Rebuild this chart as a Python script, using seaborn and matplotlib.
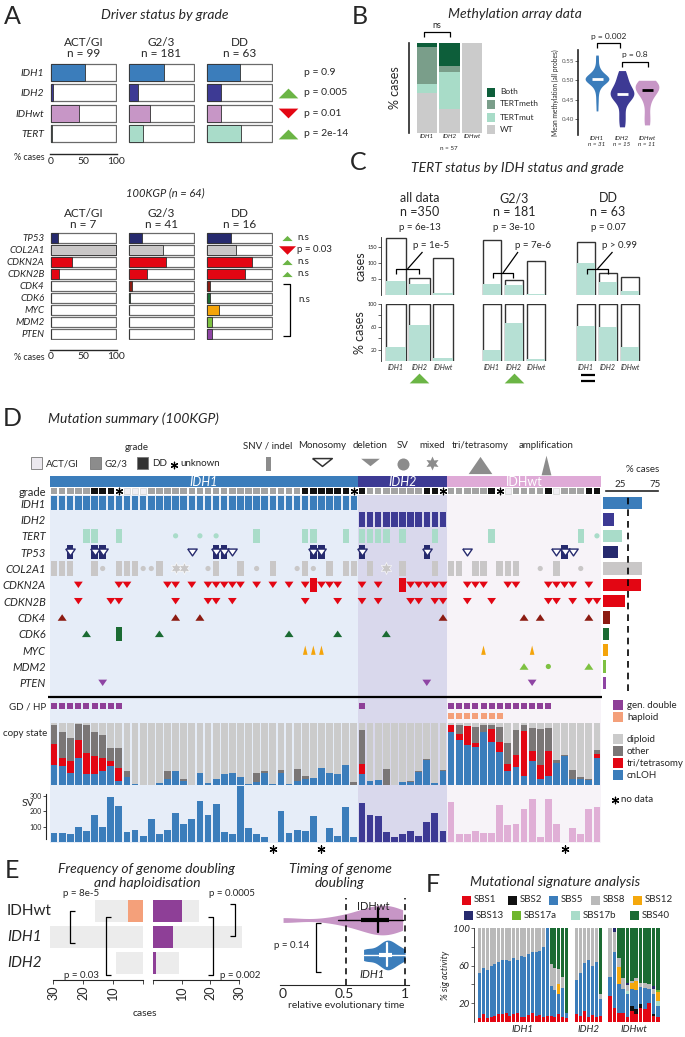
import numpy as np
import pandas as pd
import matplotlib
matplotlib.use('Agg')
import matplotlib.pyplot as plt
import seaborn as sns
from matplotlib.patches import Rectangle

sns.set_theme(style='white')
plt.rcParams['font.family'] = ['Lato', 'DejaVu Sans']
plt.rcParams['axes.linewidth'] = 0.8

## ---------------- data ----------------
# A: driver status by grade
grade_names = ['ACT/GI', 'G2/3', 'DD']
grade_n = [99, 181, 63]
drivers = ['IDH1', 'IDH2', 'IDHwt', 'TERT']
drv_act = [53, 4, 43, 2]
drv_g23 = [54, 15, 33, 22]
drv_dd = [50, 22, 22, 52]
drv_p = ['p = 0.9', 'p = 0.005', 'p = 0.01', 'p = 2e-14']
drv_dir = ['', 'up', 'down', 'up']

kgp_n = [7, 41, 16]
kgp_genes = ['TP53', 'COL2A1', 'CDKN2A', 'CDKN2B', 'CDK4', 'CDK6', 'MYC', 'MDM2', 'PTEN']
kgp_act = [12, 100, 33, 13, 0, 0, 0, 0, 0]
kgp_g23 = [20, 52, 57, 28, 5, 2, 0, 1, 1]
kgp_dd = [37, 44, 69, 58, 5, 6, 19, 9, 9]
kgp_p = ['n.s', 'p = 0.03', 'n.s', 'n.s']
kgp_dir = ['up', 'down', 'up', 'up']

# B: methylation array
idh_groups = ['IDH1', 'IDH2', 'IDHwt']
meth_wt = [45, 27, 100]
meth_mut = [10, 41, 0]
meth_meth = [41, 7, 0]
meth_both = [4, 25, 0]
meth_idh1 = [0.421, 0.44, 0.455, 0.47, 0.478, 0.485, 0.49, 0.492, 0.495, 0.497, 0.498,
             0.5, 0.501, 0.502, 0.503, 0.503, 0.504, 0.505, 0.506, 0.507, 0.508, 0.51,
             0.512, 0.514, 0.516, 0.52, 0.525, 0.53, 0.54, 0.555, 0.565]
meth_idh2 = [0.38, 0.40, 0.42, 0.445, 0.455, 0.46, 0.463, 0.465, 0.468, 0.472, 0.48,
             0.49, 0.50, 0.51, 0.525]
meth_idhwt = [0.385, 0.41, 0.44, 0.46, 0.47, 0.475, 0.48, 0.485, 0.49, 0.495, 0.50]

# C: TERT by IDH status and grade
tert_heads = ['all data\nn =350', 'G2/3\nn = 181', 'DD\nn = 63']
tert_pall = ['p = 6e-13', 'p = 3e-10', 'p = 0.07']
tert_ppair = ['p = 1e-5', 'p = 7e-6', 'p > 0.99']
tert_all_tot = [178, 52, 115]
tert_all_pos = [45, 33, 6]
tert_g23_tot = [98, 27, 60]
tert_g23_pos = [19, 18, 2]
tert_dd_tot = [36, 15, 12]
tert_dd_pos = [22, 9, 3]

# D: mutation summary, 68 samples
group_sizes = [38, 11, 19]
grade_row = list('GGGGGDDDUAAAGGGGGGGGGGGGGGGGGGGDDDDDDU'
                 'DGGGGGGGDDU'
                 'GGGGGDUAGGGGDAGGGDD')
genes12 = ['IDH1', 'IDH2', 'TERT', 'TP53', 'COL2A1', 'CDKN2A', 'CDKN2B',
           'CDK4', 'CDK6', 'MYC', 'MDM2', 'PTEN']
tert_snv = [4, 5, 8, 25, 31, 32, 36, 38, 39, 40, 41, 43, 47, 54, 65]
tert_sv = [15, 18, 20, 67]
tp53_snv = [2, 5, 6, 20, 21, 32, 33, 38, 46, 63]
tp53_mono = [2, 5, 6, 17, 20, 21, 22, 32, 33, 38, 46, 51, 62, 63, 64]
col2a1_snv = [0, 1, 2, 5, 8, 9, 10, 13, 20, 23, 27, 31, 34, 36, 37, 39, 43, 47, 49, 50,
              52, 53, 55, 56, 57, 62]
col2a1_sv = [6, 11, 12, 19, 25, 30, 32, 60, 65]
col2a1_mix = [15, 16, 41]
cdkn2a_del = [3, 8, 9, 14, 15, 17, 19, 20, 21, 22, 23, 25, 27, 29, 31, 33, 34, 35, 38, 40,
              44, 45, 46, 47, 48, 51, 52, 53, 56, 57, 61, 62, 63, 64, 66]
cdkn2a_snv = [32, 43]
cdkn2b_del = [3, 7, 8, 15, 19, 20, 22, 31, 35, 38, 40, 44, 45, 47, 48, 51, 54, 61, 62, 64, 66, 67]
cdk4_tri = [1, 15, 18, 48, 58, 60, 66]
cdk6_tri = [4, 13, 29, 35, 41]
cdk6_snv = [8]
myc_amp = [31, 32, 33, 53, 59]
mdm2_tri = [58, 66]
mdm2_sv = [61]
pten_del = [6, 46, 59]
gd_samples = [0, 1, 2, 3, 4, 5, 6, 7, 8, 38, 49, 50, 51, 52, 53, 54, 55, 56, 57, 58, 59, 60, 61]
hp_samples = [49, 50, 51, 52, 53, 54, 55]

cs_cnloh = [.32, .31, .19, .43, .17, .17, .23, .31, .06, .13, .01, 0, 0, .03, .10, .23, .06, 0, .20, .03,
            .10, .17, .20, .13, .02, .05, .20, .01, .20, .02, .06, .10, .12, .27, .20, .17, .32, 0,
            .17, .06, .08, 0, 0, .05, .05, .21, .40, .03, .23,
            .86, .72, .64, .62, .85, .70, .53, .23, .29, .14, .38, .10, .15, .36, .47, .10, .10, .08, .44]
cs_tri = [.34, .13, .19, .29, .35, .29, .20, .07, .21, 0, 0, 0, 0, 0, 0, 0, 0, 0, 0, 0,
          0, 0, 0, 0, 0, 0, 0, 0, 0, 0, 0, 0, 0, 0, 0, 0, 0, 0,
          .17, 0, 0, 0, 0, 0, 0, 0, 0, 0, 0,
          .11, .11, .31, .06, 0, .20, .17, .11, .19, .73, .17, .22, .40, 0, 0, 0, 0, 0, .06]
cs_other = [.31, .41, .38, .26, .44, .40, .38, .22, .33, .10, 0, 0, 0, 0, .13, 0, .04, 0, 0, 0,
            0, 0, 0, 0, 0, .15, .03, 0, .05, 0, .20, .05, 0, 0, 0, 0, 0, .05,
            .54, 0, 0, .26, 0, 0, .02, .02, .02, 0, .02,
            0, .14, 0, .26, .12, .06, .23, .34, .40, .10, .37, .58, .37, .04, .02, .15, .03, .02, .06]
nan = np.nan
sv_counts = [60, 60, 50, 100, 70, 175, 95, 295, 235, 65, 75, 40, 150, 50, 80, 190, 120, 150, 265, 175,
             250, 65, 50, 390, 90, 55, 35, nan, 205, 60, 80, 70, 170, nan, 90, 40, 225, 35,
             255, 175, 170, 65, 30, 50, 70, 40, 130, 190, 70,
             260, 55, 55, 70, 60, 60, 240, 110, 120, 215, 280, 35, 280, 120, nan, 90, 50, 215, 225]

# E: genome doubling / haploidisation
gd_groups = ['IDHwt', 'IDH1', 'IDH2']
gd_total = [16, 31, 9]
hp_cases = [5, 0, 0]
gd_cases = [10, 7, 1]
gdt_idhwt = [0.0, 0.45, 0.62, 0.70, 0.76, 0.80, 0.83, 0.88, 0.93, 0.98]
gdt_idh1 = [0.66, 0.70, 0.78, 0.82, 0.84, 0.86, 0.88, 0.90, 0.95, 1.0]

# F: mutational signatures (% activity per tumour)
sig_order = ['SBS1', 'SBS2', 'SBS5', 'SBS17b', 'SBS12', 'SBS17a', 'SBS8', 'SBS13', 'SBS40']
f_idh1 = {
    'SBS1': [4, 8, 4, 5, 6, 8, 9, 10, 6, 8, 10, 5, 5, 7, 10, 6, 7, 5, 6, 6, 5, 8, 5, 4],
    'SBS5': [48, 49, 51, 55, 56, 56, 57, 56, 59, 60, 56, 65, 64, 65, 64, 69, 69, 75, 94, 32, 29, 22, 31, 6],
    'SBS12': [0, 0, 0, 0, 0, 0, 0, 0, 0, 0, 0, 0, 0, 0, 0, 0, 0, 0, 0, 0, 0, 10, 0, 0],
    'SBS8': [48, 43, 45, 40, 38, 36, 34, 34, 35, 32, 34, 30, 31, 28, 26, 25, 24, 20, 0, 24, 23, 16, 12, 0],
    'SBS40': [0, 0, 0, 0, 0, 0, 0, 0, 0, 0, 0, 0, 0, 0, 0, 0, 0, 0, 0, 38, 43, 44, 52, 90],
}
f_idh2 = {
    'SBS1': [8, 6, 12, 5, 7, 5, 6],
    'SBS5': [37, 46, 51, 61, 53, 59, 19],
    'SBS8': [55, 48, 37, 34, 40, 36, 5],
    'SBS40': [0, 0, 0, 0, 0, 0, 70],
}
f_idhwt = {
    'SBS1': [28, 15, 10, 10, 5, 12, 8, 15, 14, 20, 6, 5],
    'SBS2': [0, 0, 0, 0, 0, 5, 6, 4, 0, 0, 2, 0],
    'SBS5': [20, 60, 30, 25, 25, 18, 20, 18, 22, 15, 22, 12],
    'SBS17b': [0, 0, 0, 0, 3, 0, 0, 0, 0, 0, 0, 5],
    'SBS12': [0, 0, 18, 0, 0, 7, 10, 0, 0, 0, 0, 10],
    'SBS17a': [0, 0, 0, 0, 0, 0, 0, 0, 0, 0, 0, 2],
    'SBS8': [52, 21, 10, 12, 6, 2, 3, 5, 6, 5, 5, 0],
    'SBS13': [0, 4, 0, 0, 3, 0, 0, 0, 0, 0, 3, 0],
    'SBS40': [0, 0, 32, 53, 58, 56, 53, 58, 58, 60, 62, 66],
}

## ---------------- colours ----------------
c_idh1 = '#3b7dbb'
c_idh2 = '#3d3a94'
c_idhwt = '#c796c6'
c_tert = '#a9dcc9'
green = '#6bb545'
red = '#e30613'
gene_col = {'IDH1': c_idh1, 'IDH2': c_idh2, 'IDHwt': c_idhwt, 'TERT': c_tert,
            'TP53': '#262a6e', 'COL2A1': '#c9c7c7', 'CDKN2A': red, 'CDKN2B': red,
            'CDK4': '#8c1b12', 'CDK6': '#1b6b33', 'MYC': '#f4a40b', 'MDM2': '#7ec142',
            'PTEN': '#8f45a4'}
sig_col = {'SBS1': red, 'SBS2': '#111111', 'SBS5': c_idh1, 'SBS8': '#b9b9b9',
           'SBS12': '#f5a80d', 'SBS13': '#262a6e', 'SBS17a': '#6fb62d',
           'SBS17b': '#a9dcc9', 'SBS40': '#1b6b33'}
cs_col = {'diploid': '#cbcbcb', 'other': '#7a7676', 'tri': red, 'cnloh': c_idh1}

## ---------------- figure helpers ----------------
W, H = 685, 1037
fig = plt.figure(figsize=(W / 100, H / 100), dpi=100)

ov = fig.add_axes([0, 0, 1, 1], zorder=20)
ov.set_xlim(0, W)
ov.set_ylim(H, 0)
ov.axis('off')
ov.patch.set_alpha(0)


def px_ax(x, y, w, h):
    ax = fig.add_axes([x / W, 1 - (y + h) / H, w / W, h / H])
    ax.set_facecolor('none')
    return ax


def txt(x, y, s, size=7, ha='center', va='center', **kw):
    ov.text(x, y, s, fontsize=size, ha=ha, va=va, **kw)


def line(xs, ys, lw=0.9, color='black', **kw):
    ov.plot(xs, ys, color=color, lw=lw, solid_capstyle='butt', **kw)


# closed triangle marker shapes
m_up_wide = [(-1, -0.5), (1, -0.5), (0, 0.5), (-1, -0.5)]
m_dn_wide = [(-1, 0.5), (1, 0.5), (0, -0.5), (-1, 0.5)]
m_del = [(-0.55, 0.4), (0.55, 0.4), (0, -0.4), (-0.55, 0.4)]
m_tri = [(-0.55, -0.4), (0.55, -0.4), (0, 0.4), (-0.55, -0.4)]
m_amp = [(-0.25, -0.5), (0.25, -0.5), (0, 0.5), (-0.25, -0.5)]
m_mono = [(-1, 0.4), (1, 0.4), (0, -0.4), (-1, 0.4)]
m_star = (6, 1, 0)


def tri(x, y, up, s):
    ov.scatter([x], [y], marker=m_up_wide if up else m_dn_wide, s=s,
               color=green if up else red, lw=0)


def box_panel(ax, genes, vals, labels, first, fs):
    df = pd.DataFrame({'gene': genes, 'pct': vals})
    df['full'] = 100
    sns.barplot(data=df, x='full', y='gene', orient='h', color='white', edgecolor='#6a6a6a',
                linewidth=0.9, width=0.82, saturation=1, errorbar=None, ax=ax)
    sns.barplot(data=df, x='pct', y='gene', orient='h', hue='gene',
                palette=[gene_col[g] for g in genes], edgecolor='#303030', linewidth=0.6,
                width=0.82, saturation=1, errorbar=None, legend=False, ax=ax)
    ax.set_xlim(-0.8, 100.8)
    ax.set_xlabel('')
    ax.set_ylabel('')
    for s in ax.spines.values():
        s.set_visible(False)
    ax.tick_params(axis='y', length=0, pad=4)
    if labels:
        for lab in ax.get_yticklabels():
            lab.set_fontstyle('italic')
            lab.set_fontsize(fs)
    else:
        ax.set_yticklabels([])
    if first:
        ax.spines['bottom'].set_visible(True)
        ax.spines['bottom'].set_position(('outward', 7))
        ax.spines['bottom'].set_linewidth(1.0)
        ax.set_xticks([0, 50, 100])
        ax.tick_params(axis='x', length=0, labelsize=7.5, pad=2)
    else:
        ax.set_xticks([])


## ---------------- panel A ----------------
txt(12, 16, 'A', 18)
txt(165, 15, 'Driver status by grade', 10, style='italic')
colx = [50, 128, 206]
for j, vals in enumerate([drv_act, drv_g23, drv_dd]):
    ax = px_ax(colx[j], 62, 67, 82)
    box_panel(ax, drivers, vals, j == 0, j == 0, 7.5)
    txt(colx[j] + 33.5, 48, f'{grade_names[j]}\nn = {grade_n[j]}', 8.5, linespacing=1.05)
for i, (p, d) in enumerate(zip(drv_p, drv_dir)):
    yy = 62 + (i + 0.5) * 20.5
    if d:
        tri(288, yy, d == 'up', 200)
    txt(304, yy, p, 7.5, ha='left')
txt(45, 158, '% cases', 6.5, ha='right')

txt(165, 193, '100KGP (n = 64)', 8, style='italic')
for j, vals in enumerate([kgp_act, kgp_g23, kgp_dd]):
    ax = px_ax(colx[j], 232, 67, 108)
    box_panel(ax, kgp_genes, vals, j == 0, j == 0, 7)
    txt(colx[j] + 33.5, 219, f'{grade_names[j]}\nn = {kgp_n[j]}', 8.5, linespacing=1.05)
for i, (p, d) in enumerate(zip(kgp_p, kgp_dir)):
    yy = 232 + (i + 0.5) * 12
    tri(287, yy, d == 'up', 55 if d == 'up' else 150)
    txt(297, yy, p, 7, ha='left')
line([283, 290, 290, 283], [284, 284, 336, 336])
txt(298, 300, 'n.s', 7, ha='left')
txt(45, 357, '% cases', 6.5, ha='right')

## ---------------- panel B ----------------
txt(360, 17, 'B', 18)
txt(515, 14, 'Methylation array data', 10, style='italic')
axb = px_ax(416, 43, 67, 90)
dfm = pd.DataFrame({'grp': idh_groups, 'WT': meth_wt, 'TERTmut': meth_mut,
                    'TERTmeth': meth_meth, 'Both': meth_both})
layers = ['WT', 'TERTmut', 'TERTmeth', 'Both']
meth_col = {'Both': '#0d5e3a', 'TERTmeth': '#7a9e8a', 'TERTmut': '#a8dcc8', 'WT': '#cbcbcb'}
cum = dfm[layers].cumsum(axis=1)
for lay in reversed(layers):
    sns.barplot(x=dfm['grp'], y=cum[lay], color=meth_col[lay], width=0.92, saturation=1,
                errorbar=None, linewidth=0, ax=axb)
axb.set_ylim(0, 100)
axb.set_yticks([])
axb.set_xlabel('')
axb.set_ylabel('% cases', fontsize=9, labelpad=6)
for s in ['top', 'right', 'bottom']:
    axb.spines[s].set_visible(False)
axb.spines['left'].set_position(('outward', 5))
axb.spines['left'].set_linewidth(1.2)
axb.tick_params(axis='x', length=0, pad=1, labelsize=4.5)
for lab in axb.get_xticklabels():
    lab.set_fontstyle('italic')
txt(449, 148, 'n = 57', 4.5)
line([424, 424, 450, 450], [37, 32, 32, 37])
txt(437, 26, 'ns', 6.5)
for lay, yy in zip(['Both', 'TERTmeth', 'TERTmut', 'WT'], [92, 104, 117, 129]):
    ov.add_patch(Rectangle((487, yy - 4.5), 8, 9, color=meth_col[lay], lw=0))
    txt(500, yy, lay, 6, ha='left')

axv = px_ax(578, 50, 85, 85)
dmv = pd.DataFrame({'grp': ['IDH1'] * len(meth_idh1) + ['IDH2'] * len(meth_idh2) + ['IDHwt'] * len(meth_idhwt),
                    'val': meth_idh1 + meth_idh2 + meth_idhwt})
sns.violinplot(data=dmv, x='grp', y='val', hue='grp', palette=[c_idh1, c_idh2, c_idhwt],
               cut=0, inner=None, linewidth=0, width=0.95, bw_adjust=0.7, saturation=1,
               legend=False, ax=axv)
meds = dmv.groupby('grp')['val'].median()
for i, g in enumerate(idh_groups):
    axv.plot([i - 0.22, i + 0.22], [meds[g]] * 2, color='black' if g == 'IDHwt' else 'white',
             lw=2, solid_capstyle='butt')
axv.set_xlim(-0.76, 2.64)
axv.set_ylim(0.359, 0.578)
axv.set_yticks([0.40, 0.45, 0.50, 0.55])
axv.set_yticklabels(['0.40', '0.45', '0.50', '0.55'])
axv.tick_params(axis='y', left=True, length=2, width=0.5, labelsize=4.5, labelcolor='#555555', pad=1)
axv.tick_params(axis='x', length=0, pad=1, labelsize=4.5)
axv.set_xticks([0, 1, 2])
axv.set_xticklabels([f'{g}\nn = {n}' for g, n in zip(idh_groups, [31, 15, 11])], fontstyle='italic')
axv.set_xlabel('')
axv.set_ylabel('Mean methylation (all probes)', fontsize=4.8, labelpad=2)
for s in ['top', 'right', 'bottom']:
    axv.spines[s].set_visible(False)
axv.spines['left'].set_linewidth(1.2)
line([597, 597, 620, 620], [48, 43, 43, 48])
txt(609, 36, 'p = 0.002', 6)
line([622, 622, 648, 648], [67, 62, 62, 67])
txt(635, 55, 'p = 0.8', 6)

## ---------------- panel C ----------------
txt(358, 163, 'C', 18)
txt(517, 168, 'TERT status by IDH status and grade', 10, style='italic')
cgx = [(384, 71), (481, 66), (575, 66)]
ctop = [180, 103, 39.4]
cdata = [(tert_all_tot, tert_all_pos), (tert_g23_tot, tert_g23_pos), (tert_dd_tot, tert_dd_pos)]
for k, ((x0, w), (tot, pos)) in enumerate(zip(cgx, cdata)):
    cx = x0 + w / 2
    txt(cx, 205, tert_heads[k], 9, linespacing=1.1)
    txt(cx, 228, tert_pall[k], 7)
    dfc = pd.DataFrame({'grp': idh_groups, 'tot': tot, 'pos': pos})
    dfc['pct'] = dfc['pos'] / dfc['tot'] * 100
    dfc['full'] = 100
    for j, (ycol, fcol, top) in enumerate([('tot', 'pos', ctop[k]), ('full', 'pct', 100)]):
        ax = px_ax(x0, 237 if j == 0 else 304, w, 58 if j == 0 else 57)
        sns.barplot(data=dfc, x='grp', y=ycol, color='white', edgecolor='#333333', linewidth=1.0,
                    width=0.85, saturation=1, errorbar=None, ax=ax)
        sns.barplot(data=dfc, x='grp', y=fcol, color='#b6e0d4', linewidth=0, width=0.85,
                    saturation=1, errorbar=None, ax=ax)
        ax.set_ylim(0, top)
        ax.set_xlabel('')
        ax.set_ylabel('')
        for s in ['top', 'right', 'bottom', 'left']:
            ax.spines[s].set_visible(False)
        if j == 0:
            ax.set_xticks([])
        else:
            ax.tick_params(axis='x', length=0, pad=2, labelsize=5)
            for lab in ax.get_xticklabels():
                lab.set_fontstyle('italic')
        if k == 0:
            ax.spines['left'].set_visible(True)
            ax.spines['left'].set_position(('outward', 2))
            ax.spines['left'].set_linewidth(0.6)
            if j == 0:
                ax.set_yticks([50, 100, 150])
                ax.set_ylabel('cases', fontsize=9, labelpad=1)
            else:
                ax.set_yticks([20, 40, 60, 80, 100])
                ax.set_yticklabels(['20', '', '60', '', '100'])
                ax.set_ylabel('% cases', fontsize=9, labelpad=1)
            ax.tick_params(axis='y', left=True, length=2, width=0.5, labelsize=4, pad=1)
        else:
            ax.set_yticks([])
# pairwise IDH1 vs IDH2 brackets
for (xa, xb, yb, xt), p in zip([(396, 419, 269, 431), (493, 513, 273, 533), (587, 608, 269, 620)], tert_ppair):
    line([xa, xa, xb, xb], [yb + 5, yb, yb, yb + 5])
    line([(xa + xb) / 2, (xa + xb) / 2 + 15], [yb, 252])
    txt(xt, 245, p, 7)
ov.scatter([419, 514], [378, 378], marker=m_up_wide, s=200, color=green, lw=0)
line([581, 595], [375, 375], lw=1.6)
line([581, 595], [380.5, 380.5], lw=1.6)

## ---------------- panel D ----------------
txt(12, 419, 'D', 18)
txt(48, 419, 'Mutation summary (100KGP)', 10, ha='left', style='italic')

n_samp = sum(group_sizes)
samples = np.arange(n_samp)
group_of = np.repeat(idh_groups, group_sizes)
starts = np.cumsum([0] + group_sizes[:-1])
idh1_snv = [int(i) for i in samples if group_of[i] == 'IDH1']
idh2_snv = [int(i) for i in samples if group_of[i] == 'IDH2']

# legend row
gray = '#8c8c8c'
txt(137, 447, 'grade', 7)
for x0, c, lab in [(31, '#ebe8ee', 'ACT/GI'), (90, gray, 'G2/3'), (137, '#333333', 'DD')]:
    ov.add_patch(Rectangle((x0, 457), 11, 12, facecolor=c, edgecolor='#777777', lw=0.6))
    txt(x0 + 15, 464, lab, 7, ha='left')
ov.scatter([174], [465], marker=(6, 2, 0), s=22, color='black', lw=0.9)
txt(180, 464, 'unknown', 7, ha='left')
type_lab = ['SNV / indel', 'Monosomy', 'deletion', 'SV', 'mixed', 'tri/tetrasomy', 'amplification']
type_x = [268, 322, 370, 403, 432, 480, 546]
for lab, xx in zip(type_lab, type_x):
    txt(xx, 446, lab, 7)
ov.add_patch(Rectangle((266, 457), 5, 14, color=gray, lw=0))
ov.scatter([322], [462], marker=m_mono, s=200, facecolor='white', edgecolor='#333333', lw=1.1)
ov.scatter([370], [462], marker=m_mono, s=180, color=gray, lw=0)
ov.scatter([403], [464], marker='o', s=75, color=gray, lw=0)
ov.scatter([432], [463], marker=m_star, s=100, color=gray, lw=0)
ov.scatter([480], [465], marker=m_tri, s=290, color=gray, lw=0)
ov.scatter([546], [465], marker=m_amp, s=200, color=gray, lw=0)

# group header
ax_h = px_ax(50, 476, 551, 11)
ax_h.barh([0] * 3, group_sizes, left=starts - 0.5, height=1,
          color=[c_idh1, c_idh2, '#dfaad7'], lw=0)
ax_h.set_xlim(-0.5, n_samp - 0.5)
ax_h.set_ylim(-0.5, 0.5)
ax_h.axis('off')
for g, s0, n in zip(idh_groups, starts, group_sizes):
    xc = 50 + (s0 + n / 2) * 551 / n_samp
    txt(xc, 481.5, g, 9, color='white', style='normal' if g == 'IDHwt' else 'italic')

# background shading
ax_bg = px_ax(50, 495, 551, 348)
ax_bg.set_zorder(-1)
for s0, n, c in zip(starts, group_sizes, ['#e6edf8', '#d9d8ec', '#f7f3f8']):
    ax_bg.axvspan(s0 - 0.5, s0 + n - 0.5, color=c, lw=0)
ax_bg.set_xlim(-0.5, n_samp - 0.5)
ax_bg.axis('off')

# grade row
ax_g = px_ax(50, 487, 551, 8)
grade_col = {'A': '#f0eef3', 'G': '#a3a3a3', 'D': '#111111'}
for code in ['A', 'G', 'D']:
    xs = [i for i, gr in enumerate(grade_row) if gr == code]
    sns.scatterplot(x=xs, y=[0] * len(xs), marker='s', s=22, color=grade_col[code],
                    edgecolor='#c8c8c8' if code == 'A' else 'none', linewidth=0.4,
                    legend=False, ax=ax_g)
xs = [i for i, gr in enumerate(grade_row) if gr == 'U']
sns.scatterplot(x=xs, y=[0] * len(xs), marker=(6, 2, 0), s=22, color='black', linewidth=0.9,
                legend=False, ax=ax_g)
ax_g.set_xlim(-0.5, n_samp - 0.5)
ax_g.set_ylim(-0.5, 0.5)
ax_g.set_yticks([0])
ax_g.set_yticklabels(['grade'], fontsize=8)
ax_g.set_xticks([])
ax_g.tick_params(axis='y', length=0, pad=3)
for s in ax_g.spines.values():
    s.set_visible(False)

# gene rows
events = [
    ('IDH1', 'snv', idh1_snv), ('IDH2', 'snv', idh2_snv),
    ('TERT', 'snv', tert_snv), ('TERT', 'sv', tert_sv),
    ('TP53', 'snv', tp53_snv), ('TP53', 'mono', tp53_mono),
    ('COL2A1', 'snv', col2a1_snv), ('COL2A1', 'sv', col2a1_sv), ('COL2A1', 'mix', col2a1_mix),
    ('CDKN2A', 'del', cdkn2a_del), ('CDKN2A', 'snv', cdkn2a_snv),
    ('CDKN2B', 'del', cdkn2b_del),
    ('CDK4', 'tri', cdk4_tri), ('CDK6', 'tri', cdk6_tri), ('CDK6', 'snv', cdk6_snv),
    ('MYC', 'amp', myc_amp), ('MDM2', 'tri', mdm2_tri), ('MDM2', 'sv', mdm2_sv),
    ('PTEN', 'del', pten_del),
]
ax_m = px_ax(50, 495, 551, 196)
for gene, kind, xs in events:
    row = genes12.index(gene)
    c = gene_col[gene]
    if kind == 'snv':
        ax_m.bar(xs, 0.88, bottom=row - 0.44, width=0.8, color=c, lw=0, zorder=2)
        continue
    spec = {'sv': ('o', 14, c, 'none', 0), 'mix': (m_star, 75, c, 'white', 0.4),
            'del': (m_del, 40, c, 'none', 0), 'tri': (m_tri, 42, c, 'none', 0),
            'amp': (m_amp, 45, c, 'none', 0), 'mono': (m_del, 46, 'white', c, 1.0)}[kind]
    sns.scatterplot(x=xs, y=[row] * len(xs), marker=spec[0], s=spec[1], color=spec[2],
                    edgecolor=spec[3], linewidth=spec[4], legend=False, zorder=3, ax=ax_m)
ax_m.set_xlim(-0.5, n_samp - 0.5)
ax_m.set_ylim(len(genes12) - 0.5, -0.5)
ax_m.set_yticks(range(len(genes12)))
ax_m.set_yticklabels(genes12, fontsize=8, fontstyle='italic')
ax_m.set_xticks([])
ax_m.tick_params(axis='y', length=0, pad=3)
for s in ax_m.spines.values():
    s.set_visible(False)

# % cases per gene
pct12 = []
for g in genes12:
    hit = set()
    for gene, kind, xs in events:
        if gene == g:
            hit |= set(xs)
    pct12.append(len(hit) / n_samp * 100)
ax_p = px_ax(603, 495, 69, 196)
sns.barplot(x=pct12, y=genes12, orient='h', hue=genes12, palette=[gene_col[g] for g in genes12],
            width=0.75, saturation=1, errorbar=None, legend=False, linewidth=0, ax=ax_p)
ax_p.axvline(36, color='black', lw=1.2, dashes=(4, 3))
ax_p.set_xlim(0, 100)
ax_p.set_xlabel('')
ax_p.set_ylabel('')
ax_p.set_yticks([])
for s in ['bottom', 'left', 'right']:
    ax_p.spines[s].set_visible(False)
ax_p.spines['top'].set_position(('outward', 3))
ax_p.spines['top'].set_bounds(4, 80)
ax_p.spines['top'].set_linewidth(1.2)
ax_p.xaxis.tick_top()
ax_p.set_xticks([25, 75])
ax_p.tick_params(axis='x', length=0, labelsize=7, pad=1)
txt(643, 469, '% cases', 7)

line([48, 602], [697, 697], lw=1.6)

# GD / haploid
ax_gd = px_ax(50, 700, 551, 22)
sns.scatterplot(x=gd_samples, y=[0] * len(gd_samples), marker='s', s=24, color='#8e3f97',
                linewidth=0, legend=False, ax=ax_gd)
sns.scatterplot(x=hp_samples, y=[1] * len(hp_samples), marker='s', s=24, color='#f4a07a',
                linewidth=0, legend=False, ax=ax_gd)
ax_gd.set_xlim(-0.5, n_samp - 0.5)
ax_gd.set_ylim(1.6, -0.6)
ax_gd.axis('off')
txt(46, 707, 'GD / HP', 7, ha='right')

# copy state
ax_cs = px_ax(50, 723, 551, 62)
cn = np.array(cs_cnloh)
tr = np.array(cs_tri)
ot = np.array(cs_other)
for name, top in [('diploid', np.ones(n_samp)), ('other', cn + tr + ot), ('tri', cn + tr), ('cnloh', cn)]:
    sns.barplot(x=samples, y=top, color=cs_col[name], width=0.84, saturation=1,
                errorbar=None, linewidth=0, ax=ax_cs)
ax_cs.set_xlim(-0.5, n_samp - 0.5)
ax_cs.set_ylim(0, 1)
ax_cs.axis('off')
txt(47, 733, 'copy state', 7, ha='right')

# SV
ax_sv = px_ax(50, 786, 551, 56)
sns.barplot(x=samples, y=sv_counts, hue=group_of, palette=[c_idh1, c_idh2, '#e0afd6'],
            dodge=False, width=0.84, saturation=1, errorbar=None, linewidth=0,
            legend=False, ax=ax_sv)
miss = [int(i) for i in samples if np.isnan(sv_counts[i])]
sns.scatterplot(x=miss, y=[-45] * len(miss), marker=(6, 2, 0), s=26, color='black',
                linewidth=0.9, clip_on=False, legend=False, ax=ax_sv)
ax_sv.set_xlim(-0.5, n_samp - 0.5)
ax_sv.set_ylim(0, 365)
ax_sv.set_xlabel('')
ax_sv.set_xticks([])
for s in ['top', 'right', 'bottom']:
    ax_sv.spines[s].set_visible(False)
ax_sv.spines['left'].set_position(('outward', 3))
ax_sv.spines['left'].set_bounds(20, 310)
ax_sv.set_yticks([100, 200, 300])
ax_sv.tick_params(axis='y', left=True, length=2, width=0.6, labelsize=5, pad=1)
ax_sv.set_ylabel('')
txt(34, 803, 'SV', 7.5, ha='right')

# right legend
for lab, c, yy in [('gen. double', '#8e3f97', 705), ('haploid', '#f4a07a', 717),
                   ('diploid', cs_col['diploid'], 739), ('other', cs_col['other'], 751),
                   ('tri/tetrasomy', cs_col['tri'], 763), ('cnLOH', cs_col['cnloh'], 775)]:
    ov.add_patch(Rectangle((613, yy - 5), 10, 10, color=c, lw=0))
    txt(627, yy, lab, 7, ha='left')
ov.scatter([615], [800], marker=(6, 2, 0), s=22, color='black', lw=0.9)
txt(621, 800, 'no data', 7, ha='left')

## ---------------- panel E ----------------
txt(12, 870, 'E', 18)
txt(147, 876, 'Frequency of genome doubling\nand haploidisation', 10, style='italic', linespacing=1.15)
dfe = pd.DataFrame({'grp': gd_groups, 'tot': gd_total, 'hp': hp_cases, 'gd': gd_cases})
ax_l = px_ax(50, 898, 93, 78)
ax_r = px_ax(153, 898, 89, 78)
for ax, col, c in [(ax_l, 'hp', '#f4a07a'), (ax_r, 'gd', '#8e3f97')]:
    sns.barplot(data=dfe, x='tot', y='grp', orient='h', color='#ececec', width=0.85,
                saturation=1, errorbar=None, linewidth=0, ax=ax)
    sns.barplot(data=dfe, x=col, y='grp', orient='h', color=c, width=0.85,
                saturation=1, errorbar=None, linewidth=0, ax=ax)
    ax.set_xlabel('')
    ax.set_ylabel('')
    ax.set_yticks([])
    for s in ['top', 'right', 'left']:
        ax.spines[s].set_visible(False)
    ax.spines['bottom'].set_position(('outward', 3))
    ax.spines['bottom'].set_bounds(0, 30)
    ax.set_xticks([0, 10, 20, 30])
    ax.set_xticklabels(['', '10', '20', '30'], rotation=90)
    ax.tick_params(axis='x', bottom=True, length=3, width=0.6, labelsize=9, pad=1)
ax_l.set_xlim(31, 0)
ax_r.set_xlim(0, 31)
for g, yy in zip(gd_groups, [911, 937, 963]):
    txt(7, yy, g, 11, ha='left', style='normal' if g == 'IDHwt' else 'italic')
txt(145, 1013, 'cases', 7.5)
txt(81, 893, 'p = 8e-5', 7)
line([75, 70, 70, 75], [911, 911, 943, 943])
txt(81, 975, 'p = 0.03', 7)
line([111, 106, 106, 111], [917, 917, 975, 975])
txt(232, 893, 'p = 0.0005', 7)
line([230, 235, 235, 230], [904, 904, 936, 936])
txt(240, 975, 'p = 0.002', 7)
line([208, 213, 213, 208], [917, 917, 975, 975])

txt(340, 876, 'Timing of genome\ndoubling', 10, style='italic', linespacing=1.15)
ax_t = px_ax(280, 898, 132, 87)
dft = pd.DataFrame({'grp': ['IDHwt'] * len(gdt_idhwt) + ['IDH1'] * len(gdt_idh1),
                    't': gdt_idhwt + gdt_idh1})
sns.violinplot(data=dft, x='t', y='grp', hue='grp', orient='h', palette=[c_idhwt, c_idh1],
               cut=0, inner=None, linewidth=0, width=0.85, bw_adjust=0.8, saturation=1,
               legend=False, ax=ax_t)
for i, g in enumerate(['IDHwt', 'IDH1']):
    v = dft.loc[dft['grp'] == g, 't']
    q1, md, q3 = np.percentile(v, [25, 50, 75])
    c = 'black' if g == 'IDHwt' else 'white'
    ax_t.plot([max(v.min(), 0.45), v.max()], [i, i], color=c, lw=1)
    ax_t.plot([q1, q3], [i, i], color=c, lw=3, solid_capstyle='butt')
    ax_t.plot([md, md], [i - 0.33, i + 0.33], color=c, lw=1.6)
for xv in [0.52, 1.0]:
    ax_t.axvline(xv, color='black', lw=1.1, dashes=(4, 3))
ax_t.set_xlim(-0.025, 1.057)
ax_t.set_ylim(1.86, -0.63)
ax_t.set_yticks([])
ax_t.set_ylabel('')
for s in ['top', 'right', 'left']:
    ax_t.spines[s].set_visible(False)
ax_t.spines['bottom'].set_bounds(-0.025, 1.03)
ax_t.set_xticks([0, 0.5, 1])
ax_t.set_xticklabels(['0', '0.5', '1'])
ax_t.tick_params(axis='x', labelsize=10, length=0, pad=2)
ax_t.set_xlabel('relative evolutionary time', fontsize=7.5, labelpad=1)
txt(373, 906, 'IDHwt', 8)
txt(372, 975, 'IDH1', 8, style='italic')
txt(292, 946, 'p = 0.14', 7)
line([321, 316, 316, 321], [923, 923, 972, 972])

## ---------------- panel F ----------------
txt(433, 884, 'F', 18)
txt(555, 882, 'Mutational signature analysis', 10, style='italic')
leg_f = [('SBS1', 466, 900), ('SBS2', 512, 900), ('SBS5', 553, 900), ('SBS8', 595, 900),
         ('SBS12', 637, 900), ('SBS13', 468, 915), ('SBS17a', 516, 915), ('SBS17b', 575, 915),
         ('SBS40', 634, 915)]
for lab, xx, yy in leg_f:
    ov.add_patch(Rectangle((xx - 4, yy - 4.5), 9, 9, color=sig_col[lab], lw=0))
    txt(xx + 8, yy, lab, 7, ha='left')
for k, (sig, (x0, w), lab) in enumerate(zip([f_idh1, f_idh2, f_idhwt],
                                            [(478, 90), (575, 27), (608, 52)],
                                            idh_groups)):
    ax = px_ax(x0, 928, w, 94)
    sdf = pd.DataFrame({s: sig.get(s, [0] * len(sig['SBS1'])) for s in sig_order})
    cumf = sdf.cumsum(axis=1)
    xs = np.arange(len(sdf))
    for s in reversed(sig_order):
        if sdf[s].sum() == 0:
            continue
        sns.barplot(x=xs, y=cumf[s], color=sig_col[s], width=0.8, saturation=1,
                    errorbar=None, linewidth=0, ax=ax)
    ax.set_ylim(0, 100)
    ax.set_xticks([])
    ax.set_xlabel('')
    ax.set_ylabel('')
    for s in ['top', 'right', 'bottom', 'left']:
        ax.spines[s].set_visible(False)
    if k == 0:
        ax.spines['left'].set_visible(True)
        ax.spines['left'].set_position(('outward', 3))
        ax.spines['left'].set_linewidth(0.6)
        ax.set_yticks([20, 40, 60, 80, 100])
        ax.set_yticklabels(['20', '', '60', '', '100'], fontstyle='italic')
        ax.tick_params(axis='y', left=True, length=2, width=0.5, labelsize=7, pad=1)
        ax.set_ylabel('% sig activity', fontsize=6.5, fontstyle='italic', labelpad=2)
    else:
        ax.set_yticks([])
    txt(x0 + w / 2, 1029, lab, 7, style='italic')

fig.savefig('out.png', dpi=100)
